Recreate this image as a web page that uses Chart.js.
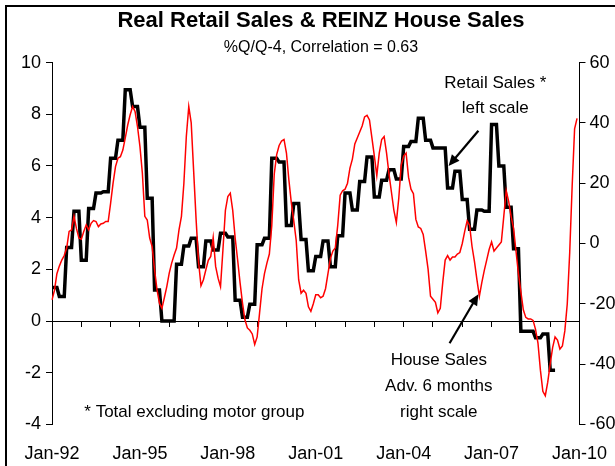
<!DOCTYPE html>
<html>
<head>
<meta charset="utf-8">
<script src="https://cdn.jsdelivr.net/npm/chart.js@4.4.0/dist/chart.umd.min.js"></script>
<style>
  html, body { margin: 0; padding: 0; background: #fff; overflow: hidden; }
  #wrap { position: relative; width: 615px; height: 466px; overflow: hidden; }
  #frame { position: absolute; left: 5px; top: 5px; width: 700px; height: 600px;
           border-left: 2px solid #000; border-top: 2px solid #000; }
  #chart { position: absolute; left: 0; top: 0; }
</style>
</head>
<body>
<div id="wrap"><div id="frame"></div><canvas id="chart" width="626" height="466"></canvas></div>
<script>
const yearTicks = ["Jan-92", "Jan-95", "Jan-98", "Jan-01", "Jan-04", "Jan-07", "Jan-10"];
const monthNames = ["Jan","Feb","Mar","Apr","May","Jun","Jul","Aug","Sep","Oct","Nov","Dec"];

// real retail sales ex motor group, %Q/Q-4, one value per quarter from Mar-92 qtr
const retailQtr = [
  1.3, 0.95, 2.85, 4.25, 2.35, 4.35, 4.95, 5.0, 6.3, 7.0,
  8.95, 8.3, 7.5, 4.75, 1.2, 0.0, 0.0, 2.2, 2.9, 3.2,
  2.1, 3.1, 2.75, 3.4, 3.25, 0.8, 0.15, 0.65, 2.95, 3.2,
  6.3, 6.15, 3.7, 4.55, 3.15, 1.95, 2.5, 3.1, 2.1, 3.3,
  4.95, 4.3, 5.4, 6.35, 4.8, 5.45, 5.85, 5.5, 6.75, 6.95,
  7.85, 7.0, 6.7, 6.7, 5.15, 5.8, 4.7, 3.55, 4.3, 4.25,
  7.6, 6.0, 4.4, 2.8, -0.4, -0.4, -0.65, -0.5, -1.9
];

// REINZ house sales, %Q/Q-4 advanced 6 months, monthly from Jan-92 (right scale)
const houseSales = [
  -18.7, -15.5, -10, -7.5, -5.5, -4, -1.5, 4, 4.5, 9, 5, 1.8,
  1.4, 4, 6.2, 4.5, 6.7, 7.6, 7.3, 5.6, 6.5, 6.7, 7.3, 7.3,
  13.4, 20, 25.5, 28.3, 28.8, 31, 35, 39.3, 42.7, 45.4, 43.8, 38.8,
  32.2, 23.3, 9, 7.8, 1.8, -1, -8.7, -15.4, -19.8, -21.5, -18, -14.3,
  -9.8, -6.5, -3.8, -1.5, 4.5, 9, 20, 35.5, 45.4, 40, 24, 8,
  -6, -14, -12, -8.7, -5.6, -4.3, 2, -7.6, -11.5, -14.3, -2, 11,
  15.6, 16.7, 11, 1.8, -5.4, -13, -19.8, -25.3, -28, -28.8, -30, -33.5,
  -31, -23, -15, -10, -6.5, -3.5, 6, 23, 29.5, 32.5, 34, 34.5,
  30, 21, 13.5, 7.5, 1, -12, -16.5, -15.5, -16.5, -21, -22.5, -20,
  -17, -17, -18, -17.5, -15, -10, -5, -2.5, -1.5, 6, 16, 17.5,
  18, 20, 25, 28, 33, 35, 37, 39, 42, 42.5, 41, 35,
  29, 22.5, 30, 34.5, 35.5, 30, 23, 17, 11, 7, 15, 26,
  29, 30, 22, 18, 16.5, 8, 5.5, 5, 3, -2.5, -8.5, -17.5,
  -18.5, -19.5, -23, -21.5, -13, -5.5, -4, -5.5, -4.5, -4.5, -3.5, -3,
  0, 4, 7.5, 6, -1, -6, -12, -17.5, -13, -9, -5.5, -2,
  0.5, -2.5, -1.5, -0.5, 0.5, 9, 17.5, 14, 9, 5, -2.5, -10,
  -16, -22, -24.5, -25, -25, -25.5, -28.5, -33, -42, -49, -50.5, -46,
  -40, -34.5, -31, -32, -35, -34, -29, -20, -3, 19, 38, 41.5
];

// monthly categories Jan-92 .. Jan-10
const months = [];
for (let yr = 1992; yr <= 2010; yr++) {
  for (let mo = 0; mo < 12; mo++) {
    if (yr === 2010 && mo > 0) break;
    months.push(monthNames[mo] + "-" + String(yr).slice(2));
  }
}

// each quarterly figure is held over its three months, as in the original
const retailMonthly = [];
retailQtr.forEach(v => retailMonthly.push(v, v, v));

const notes = [
  { text: "Retail Sales *", m: 181.5, v: 9.2 },
  { text: "left scale", m: 181.5, v: 8.25 },
  { text: "House Sales", m: 158.4, v: -1.52 },
  { text: "Adv. 6 months", m: 158.4, v: -2.52 },
  { text: "right scale", m: 158.4, v: -3.52 },
  { text: "* Total excluding motor group", m: 58.3, v: -3.52 }
];
const arrows = [
  { from: [174.6, 7.36], to: [162.4, 6.0] },
  { from: [162.8, -0.86], to: [174.6, 1.04] }
];

const FONT = 'Arial, "Liberation Sans", sans-serif';
Chart.defaults.font.family = FONT;
Chart.defaults.color = "#000";

const annotate = {
  id: "annotate",
  afterDraw(chart) {
    const { ctx } = chart;
    const x = chart.scales.x, y = chart.scales.y;
    ctx.save();
    ctx.fillStyle = "#000";
    ctx.strokeStyle = "#000";
    ctx.font = "17px " + FONT;
    ctx.textAlign = "center";
    ctx.textBaseline = "middle";
    notes.forEach(n => ctx.fillText(n.text, x.getPixelForValue(n.m), y.getPixelForValue(n.v)));
    arrows.forEach(a => {
      const x1 = x.getPixelForValue(a.from[0]), y1 = y.getPixelForValue(a.from[1]);
      const x2 = x.getPixelForValue(a.to[0]), y2 = y.getPixelForValue(a.to[1]);
      const ang = Math.atan2(y2 - y1, x2 - x1);
      const head = 11, half = 5;
      const c = Math.cos(ang), s = Math.sin(ang);
      ctx.lineWidth = 2.2;
      ctx.beginPath();
      ctx.moveTo(x1, y1);
      ctx.lineTo(x2 - head * 0.8 * c, y2 - head * 0.8 * s);
      ctx.stroke();
      ctx.beginPath();
      ctx.moveTo(x2, y2);
      ctx.lineTo(x2 - head * c + half * s, y2 - head * s - half * c);
      ctx.lineTo(x2 - head * c - half * s, y2 - head * s + half * c);
      ctx.closePath();
      ctx.fill();
    });
    ctx.restore();
  }
};

new Chart(document.getElementById("chart"), {
  type: "line",
  data: {
    labels: months,
    datasets: [
      { label: "House Sales", data: houseSales, yAxisID: "y1", borderColor: "#ff0000",
        borderWidth: 1.5, pointRadius: 0, tension: 0 },
      { label: "Retail Sales", data: retailMonthly, yAxisID: "y", borderColor: "#000000",
        borderWidth: 3.5, pointRadius: 0, tension: 0 }
    ]
  },
  options: {
    responsive: false,
    animation: false,
    layout: { padding: { left: 16, right: 0, top: 6, bottom: -18 } },
    plugins: {
      legend: { display: false },
      tooltip: { enabled: false },
      title: { display: true, text: "Real Retail Sales & REINZ House Sales",
               font: { size: 22, weight: "bold" }, color: "#000", padding: { top: 2, bottom: 2 } },
      subtitle: { display: true, text: "%Q/Q-4, Correlation = 0.63",
                  font: { size: 16 }, color: "#000", padding: { top: 2, bottom: 5 } }
    },
    scales: {
      x: {
        position: "bottom",
        grid: { display: false, drawTicks: false },
        border: { display: false },
        ticks: {
          autoSkip: false, maxRotation: 0, minRotation: 0, padding: 19,
          font: { size: 18 }, color: "#000",
          callback: (v, i) => (i % 36 === 0 ? yearTicks[i / 36] : "")
        }
      },
      xZero: {
        axis: "x",
        type: "category",
        position: { y: 0 },
        grid: {
          drawOnChartArea: false, tickLength: 5,
          tickColor: ctx => (ctx.index % 12 === 0 ? "#000" : "rgba(0,0,0,0)")
        },
        border: { display: true, color: "#000", width: 1 },
        ticks: { display: false, padding: 0, font: { size: 1 } }
      },
      y: {
        position: "left", min: -4, max: 10,
        ticks: { stepSize: 2, padding: 5, font: { size: 18 }, color: "#000" },
        grid: { drawOnChartArea: false, tickLength: 6, tickColor: "#000" },
        border: { color: "#000", width: 1 }
      },
      y1: {
        position: "right", min: -60, max: 60,
        ticks: { stepSize: 20, padding: 4, font: { size: 18 }, color: "#000" },
        grid: { drawOnChartArea: false, tickLength: 6, tickColor: "#000" },
        border: { color: "#000", width: 1 }
      }
    }
  },
  plugins: [annotate]
});
</script>
</body>
</html>
